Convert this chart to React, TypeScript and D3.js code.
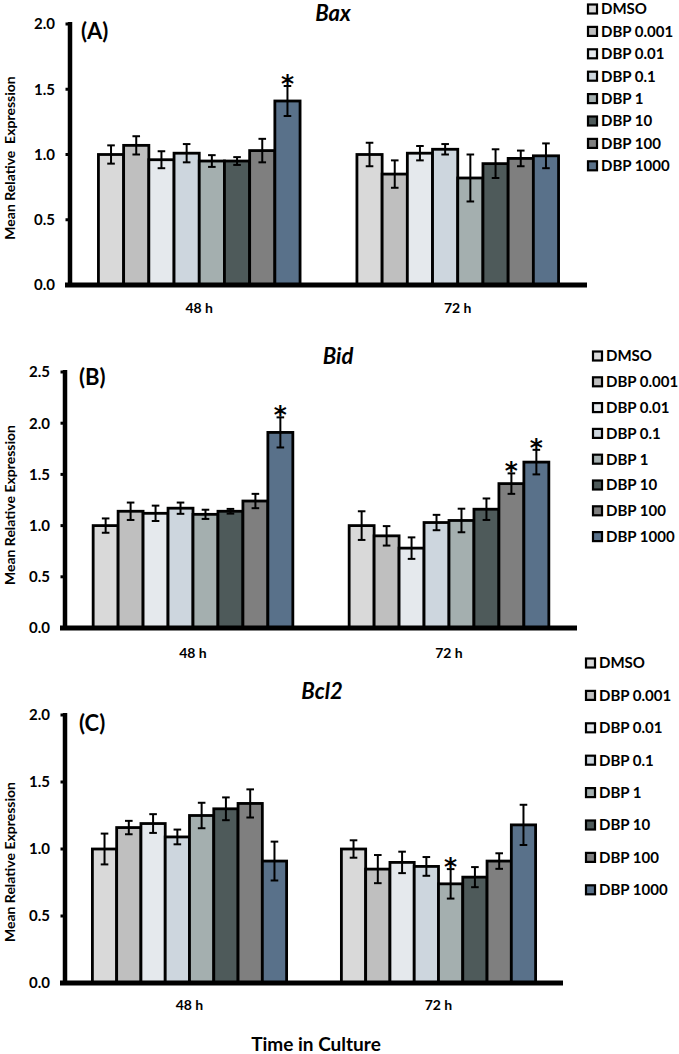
import React from "react";
import * as d3 from "d3";

const categories = ["48 h", "72 h"];
const groups = ["DMSO", "DBP 0.001", "DBP 0.01", "DBP 0.1", "DBP 1", "DBP 10", "DBP 100", "DBP 1000"];
const groupColors = ["#d9d9d9", "#bfbfbf", "#e5e9ed", "#cdd6de", "#a4afaf", "#4e5a5a", "#7f7f7f", "#59718a"];

const baxMean48 = [1.0, 1.07, 0.96, 1.01, 0.95, 0.95, 1.03, 1.41];
const baxErr48 = [0.07, 0.07, 0.065, 0.07, 0.045, 0.03, 0.09, 0.115];
const baxMean72 = [1.0, 0.85, 1.01, 1.04, 0.82, 0.93, 0.97, 0.99];
const baxErr72 = [0.09, 0.105, 0.055, 0.04, 0.18, 0.11, 0.06, 0.095];
const baxSig48 = [7];
const baxSig72: number[] = [];

const bidMean48 = [1.0, 1.14, 1.12, 1.17, 1.11, 1.14, 1.24, 1.91];
const bidErr48 = [0.07, 0.085, 0.075, 0.055, 0.045, 0.023, 0.07, 0.147];
const bidMean72 = [1.0, 0.9, 0.78, 1.03, 1.05, 1.16, 1.41, 1.62];
const bidErr72 = [0.14, 0.095, 0.105, 0.075, 0.115, 0.105, 0.1, 0.12];
const bidSig48 = [7];
const bidSig72 = [6, 7];

const bcl2Mean48 = [1.0, 1.16, 1.19, 1.09, 1.25, 1.3, 1.34, 0.91];
const bcl2Err48 = [0.115, 0.05, 0.07, 0.055, 0.095, 0.085, 0.105, 0.145];
const bcl2Mean72 = [1.0, 0.85, 0.9, 0.87, 0.74, 0.79, 0.91, 1.18];
const bcl2Err72 = [0.065, 0.105, 0.08, 0.07, 0.11, 0.075, 0.058, 0.15];
const bcl2Sig48: number[] = [];
const bcl2Sig72 = [4];

const yTicksA = [0, 0.5, 1.0, 1.5, 2.0];
const yTicksB = [0, 0.5, 1.0, 1.5, 2.0, 2.5];
const yTicksC = [0, 0.5, 1.0, 1.5, 2.0];

const yLabelA = "Mean Relative  Expression";
const yLabelB = "Mean Relative Expression";
const yLabelC = "Mean Relative Expression";
const xTitle = "Time in Culture";

const FONT = "Lato, 'Open Sans', sans-serif";
const STAR_FONT = "'DejaVu Sans', sans-serif";

type PanelCfg = {
  title: string;
  letter: string;
  ylabel: string;
  means: number[][];
  errs: number[][];
  sigs: number[][];
  ticks: number[];
  yMax: number;
  axisX: number;
  axisEnd: number;
  yTop: number;
  yZero: number;
  titleX: number;
  titleY: number;
  letterX: number;
  letterY: number;
  ylabelY: number;
  catY: number;
  legSqX: number;
  legTextX: number;
  legY0: number;
  legStep: number;
};

const panels: PanelCfg[] = [
  {
    title: "Bax", letter: "(A)", ylabel: yLabelA,
    means: [baxMean48, baxMean72], errs: [baxErr48, baxErr72], sigs: [baxSig48, baxSig72],
    ticks: yTicksA, yMax: 2.0,
    axisX: 70, axisEnd: 587, yTop: 24, yZero: 285,
    titleX: 333, titleY: 21, letterX: 81, letterY: 39, ylabelY: 158, catY: 313,
    legSqX: 587, legTextX: 601, legY0: 9, legStep: 22.4,
  },
  {
    title: "Bid", letter: "(B)", ylabel: yLabelB,
    means: [bidMean48, bidMean72], errs: [bidErr48, bidErr72], sigs: [bidSig48, bidSig72],
    ticks: yTicksB, yMax: 2.5,
    axisX: 65, axisEnd: 577, yTop: 372, yZero: 628,
    titleX: 338, titleY: 364, letterX: 79, letterY: 385, ylabelY: 505, catY: 658,
    legSqX: 592, legTextX: 606, legY0: 356, legStep: 25.8,
  },
  {
    title: "Bcl2", letter: "(C)", ylabel: yLabelC,
    means: [bcl2Mean48, bcl2Mean72], errs: [bcl2Err48, bcl2Err72], sigs: [bcl2Sig48, bcl2Sig72],
    ticks: yTicksC, yMax: 2.0,
    axisX: 65, axisEnd: 563, yTop: 715, yZero: 983,
    titleX: 322, titleY: 699, letterX: 79, letterY: 731, ylabelY: 862, catY: 1010,
    legSqX: 585, legTextX: 599, legY0: 663, legStep: 32.4,
  },
];

function Panel({ p }: { p: PanelCfg }) {
  const y = d3.scaleLinear().domain([0, p.yMax]).range([p.yZero, p.yTop]);
  const x0 = d3
    .scaleBand<string>()
    .domain(categories)
    .range([p.axisX, p.axisEnd])
    .paddingInner(0.22)
    .paddingOuter(0.11);
  const x1 = d3.scaleBand<string>().domain(groups).range([0, x0.bandwidth()]).padding(0);
  const fmt = d3.format(".1f");

  return (
    <g>
      {categories.map((cat, ci) => (
        <g key={cat} transform={`translate(${x0(cat)},0)`}>
          {groups.map((g, gi) => {
            const v = p.means[ci][gi];
            const e = p.errs[ci][gi];
            const bx = x1(g)!;
            const bw = x1.bandwidth();
            const cx = bx + bw / 2;
            return (
              <g key={g}>
                <rect x={bx} y={y(v)} width={bw} height={y(0) - y(v)} fill={groupColors[gi]} stroke="#000" strokeWidth={2.8} />
                <line x1={cx} x2={cx} y1={y(v + e)} y2={y(v - e)} stroke="#000" strokeWidth={2} />
                <line x1={cx - 3.8} x2={cx + 3.8} y1={y(v + e)} y2={y(v + e)} stroke="#000" strokeWidth={2} />
                <line x1={cx - 3.8} x2={cx + 3.8} y1={y(v - e)} y2={y(v - e)} stroke="#000" strokeWidth={2} />
                {p.sigs[ci].includes(gi) && (
                  <text x={cx} y={y(v + e) + 6} textAnchor="middle" fontFamily={STAR_FONT} fontWeight={700} fontSize={25} fill="#000">
                    *
                  </text>
                )}
              </g>
            );
          })}
          <text
            x={x0.bandwidth() / 2}
            y={p.catY}
            textAnchor="middle"
            fontFamily={FONT}
            fontWeight={700}
            fontSize={14}
            fill="#000"
          >
            {cat}
          </text>
        </g>
      ))}
      <line x1={p.axisX} x2={p.axisX} y1={p.yTop - 2} y2={p.yZero} stroke="#000" strokeWidth={4.5} />
      {p.ticks.map((t) => (
        <g key={t}>
          <line x1={p.axisX - 4.5} x2={p.axisX} y1={y(t)} y2={y(t)} stroke="#000" strokeWidth={3} />
          <text
            x={p.axisX - 15}
            y={y(t)}
            dy="0.36em"
            textAnchor="end"
            fontFamily={FONT}
            fontWeight={700}
            fontSize={15}
            fill="#000"
          >
            {fmt(t)}
          </text>
        </g>
      ))}
      <line x1={p.axisX - 5} x2={p.axisEnd} y1={p.yZero} y2={p.yZero} stroke="#000" strokeWidth={5} />
      <text
        transform={`translate(15,${p.ylabelY}) rotate(-90)`}
        textAnchor="middle"
        fontFamily={FONT}
        fontWeight={700}
        fontSize={14}
        fill="#000"
        style={{ whiteSpace: "pre" }}
      >
        {p.ylabel}
      </text>
      <text x={p.titleX} y={p.titleY} textAnchor="middle" fontFamily={FONT} fontWeight={700} fontStyle="italic" fontSize={22} fill="#000">
        {p.title}
      </text>
      <text x={p.letterX} y={p.letterY} fontFamily={FONT} fontWeight={700} fontSize={22} fill="#000">
        {p.letter}
      </text>
      {groups.map((g, gi) => {
        const cy = p.legY0 + gi * p.legStep;
        return (
          <g key={g}>
            <rect x={p.legSqX + 1} y={cy - 4.5} width={9} height={9} fill={groupColors[gi]} stroke="#000" strokeWidth={2.2} />
            <text x={p.legTextX} y={cy} dy="0.36em" fontFamily={FONT} fontWeight={700} fontSize={15} fill="#000">
              {g}
            </text>
          </g>
        );
      })}
    </g>
  );
}

export default function App() {
  return (
    <svg
      width={679}
      height={1054}
      viewBox="0 0 679 1054"
      style={{ position: "absolute", left: 0, top: 0, background: "#fff" }}
    >
      <rect x={0} y={0} width={679} height={1054} fill="#fff" />
      {panels.map((p) => (
        <Panel key={p.title} p={p} />
      ))}
      <text x={316} y={1051} textAnchor="middle" fontFamily={FONT} fontWeight={700} fontSize={19} fill="#000">
        {xTitle}
      </text>
    </svg>
  );
}
